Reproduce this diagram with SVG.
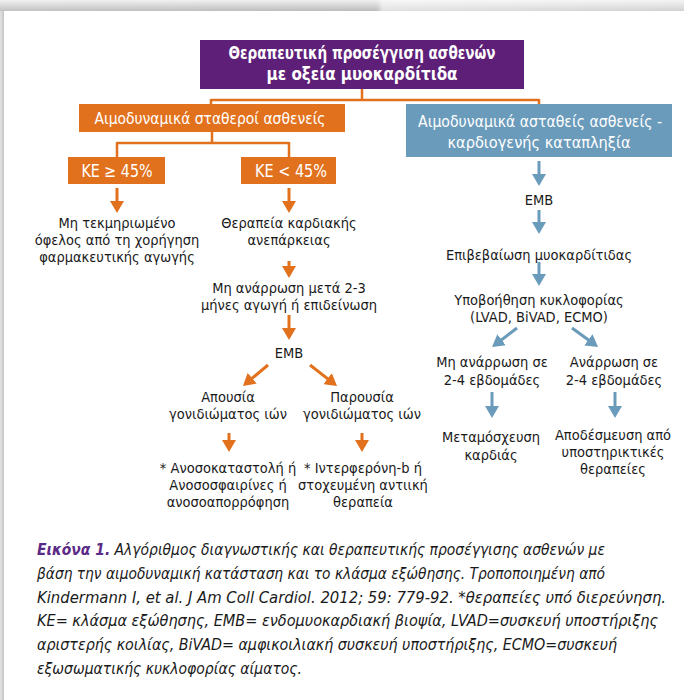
<svg xmlns="http://www.w3.org/2000/svg" width="684" height="700" viewBox="0 0 684 700">
<defs>
<linearGradient id="topg" x1="0" y1="0" x2="0" y2="1">
<stop offset="0" stop-color="#eeeeee"/>
<stop offset="1" stop-color="#b4b4b4"/>
</linearGradient>
<linearGradient id="topfade" x1="0" y1="0" x2="1" y2="0">
<stop offset="0" stop-color="#ffffff" stop-opacity="0.2"/>
<stop offset="0.55" stop-color="#ffffff" stop-opacity="0.1"/>
<stop offset="0.56" stop-color="#ffffff" stop-opacity="0.6"/>
<stop offset="1" stop-color="#ffffff" stop-opacity="0.4"/>
</linearGradient>
<linearGradient id="leftg" x1="0" y1="0" x2="1" y2="0">
<stop offset="0" stop-color="#e4e4e4"/>
<stop offset="1" stop-color="#c4c4c4"/>
</linearGradient>
<marker id="ah-o" viewBox="0 0 12 14" markerWidth="12" markerHeight="14" refX="4" refY="7" orient="auto" markerUnits="userSpaceOnUse">
<path d="M0,0 L12,7 L0,14 z" fill="#E2711D"/>
</marker>
<marker id="ah-b" viewBox="0 0 12 14" markerWidth="12" markerHeight="14" refX="4" refY="7" orient="auto" markerUnits="userSpaceOnUse">
<path d="M0,0 L12,7 L0,14 z" fill="#6A9BBB"/>
</marker>
</defs>
<style>
text{font-family:"Liberation Sans Narrow","DejaVu Sans Condensed","Liberation Sans",Arial,sans-serif;}
.t{font-size:14.5px;fill:#1a1a1a;text-anchor:middle;}
.wb{font-size:16px;fill:#ffffff;text-anchor:middle;}
.ttl{font-size:17px;fill:#ffffff;text-anchor:middle;font-weight:bold;}
.cap{font-size:16px;fill:#1a1a1a;font-style:italic;}
.capb{font-weight:bold;fill:#5B2A86;}
.co{stroke:#E2711D;stroke-width:2.5;fill:none;}
.ao{stroke:#E2711D;stroke-width:3;fill:none;marker-end:url(#ah-o);}
.ab{stroke:#6A9BBB;stroke-width:3;fill:none;marker-end:url(#ah-b);}
</style>
<rect x="0" y="0" width="684" height="700" fill="#ffffff"/>
<rect x="0" y="0" width="684" height="11" fill="url(#topg)"/>
<rect x="0" y="0" width="684" height="11" fill="url(#topfade)"/>
<rect x="0" y="11" width="4" height="689" fill="url(#leftg)"/>

<g id="connectors">
<path class="co" d="M362,89 V100 M211,100 H539 M211,99 V104 M539,99 V104"/>
<path class="co" d="M212,132 V143 M117,143 H289 M117,142 V157 M289,142 V157"/>
<line class="ao" x1="117" y1="188" x2="117" y2="205"/>
<line class="ao" x1="289" y1="188" x2="289" y2="205"/>
<line class="ao" x1="289" y1="261" x2="289" y2="270"/>
<line class="ao" x1="289" y1="315" x2="289" y2="332"/>
<line class="ao" x1="268" y1="365" x2="249.1" y2="380.8"/>
<line class="ao" x1="310" y1="365" x2="330.7" y2="381.1"/>
<line class="ao" x1="229" y1="433" x2="229" y2="444"/>
<line class="ao" x1="362" y1="433" x2="362" y2="444"/>
<line class="ab" x1="539" y1="161" x2="539" y2="178"/>
<line class="ab" x1="539" y1="210" x2="539" y2="226"/>
<line class="ab" x1="539" y1="262" x2="539" y2="278"/>
<line class="ab" x1="517" y1="328" x2="498.4" y2="342.2"/>
<line class="ab" x1="572" y1="328" x2="591.6" y2="342.2"/>
<line class="ab" x1="492" y1="392" x2="492" y2="410"/>
<line class="ab" x1="615" y1="392" x2="615" y2="410"/>
</g>

<g id="title">
<rect x="200" y="40" width="324" height="49" fill="#5E1F78"/>
<text class="ttl" x="362" y="59" textLength="267" lengthAdjust="spacingAndGlyphs">Θεραπευτική προσέγγιση ασθενών</text>
<text class="ttl" x="362" y="80" textLength="191" lengthAdjust="spacingAndGlyphs">με οξεία μυοκαρδίτιδα</text>
</g>
<g id="stable">
<rect x="79" y="104" width="266" height="28" fill="#E2711D"/>
<text class="wb" x="210" y="124" textLength="231" lengthAdjust="spacingAndGlyphs">Αιμοδυναμικά σταθεροί ασθενείς</text>
</g>
<g id="unstable">
<rect x="406" y="104" width="266" height="53" fill="#6A9BBB"/>
<text class="wb" x="540" y="127" textLength="244" lengthAdjust="spacingAndGlyphs">Αιμοδυναμικά ασταθείς ασθενείς -</text>
<text class="wb" x="539" y="148" textLength="183" lengthAdjust="spacingAndGlyphs">καρδιογενής καταπληξία</text>
</g>
<g id="ke-high">
<rect x="68" y="157" width="97" height="27" fill="#E2711D"/>
<text class="wb" x="117" y="177" style="font-size:17px" textLength="71" lengthAdjust="spacingAndGlyphs">ΚΕ ≥ 45%</text>
</g>
<g id="ke-low">
<rect x="241" y="157" width="95" height="27" fill="#E2711D"/>
<text class="wb" x="291" y="177" style="font-size:17px" textLength="72" lengthAdjust="spacingAndGlyphs">ΚΕ &lt; 45%</text>
</g>
<g id="no-benefit">
<text class="t" x="117" y="228">Μη τεκμηριωμένο</text>
<text class="t" x="117" y="245">όφελος από τη χορήγηση</text>
<text class="t" x="117" y="262">φαρμακευτικής αγωγής</text>
</g>
<g id="hf-therapy">
<text class="t" x="289" y="228">Θεραπεία καρδιακής</text>
<text class="t" x="289" y="245">ανεπάρκειας</text>
</g>
<g id="no-recovery">
<text class="t" x="289" y="293">Μη ανάρρωση μετά 2-3</text>
<text class="t" x="289" y="310">μήνες αγωγή ή επιδείνωση</text>
</g>
<g id="emb-left">
<text class="t" x="289" y="358">EMB</text>
</g>
<g id="virus-absent">
<text class="t" x="228" y="402">Απουσία</text>
<text class="t" x="228" y="419">γονιδιώματος ιών</text>
</g>
<g id="virus-present">
<text class="t" x="362" y="402">Παρουσία</text>
<text class="t" x="362" y="419">γονιδιώματος ιών</text>
</g>
<g id="immuno">
<text class="t" x="228" y="473">* Ανοσοκαταστολή ή</text>
<text class="t" x="228" y="490">Ανοσοσφαιρίνες ή</text>
<text class="t" x="228" y="507">ανοσοαπορρόφηση</text>
</g>
<g id="interferon">
<text class="t" x="363" y="473">* Ιντερφερόνη-b ή</text>
<text class="t" x="363" y="490">στοχευμένη αντιική</text>
<text class="t" x="363" y="507">θεραπεία</text>
</g>
<g id="emb-right">
<text class="t" x="539" y="205">EMB</text>
</g>
<g id="confirm">
<text class="t" x="539" y="260">Επιβεβαίωση μυοκαρδίτιδας</text>
</g>
<g id="support">
<text class="t" x="539" y="305">Υποβοήθηση κυκλοφορίας</text>
<text class="t" x="539" y="322">(LVAD, BiVAD, ECMO)</text>
</g>
<g id="no-recovery-2">
<text class="t" x="492" y="367">Μη ανάρρωση σε</text>
<text class="t" x="492" y="385">2-4 εβδομάδες</text>
</g>
<g id="recovery">
<text class="t" x="614" y="367">Ανάρρωση σε</text>
<text class="t" x="614" y="385">2-4 εβδομάδες</text>
</g>
<g id="transplant">
<text class="t" x="491" y="442">Μεταμόσχευση</text>
<text class="t" x="491" y="460">καρδιάς</text>
</g>
<g id="weaning">
<text class="t" x="613" y="440">Αποδέσμευση από</text>
<text class="t" x="613" y="457">υποστηρικτικές</text>
<text class="t" x="613" y="474">θεραπείες</text>
</g>

<g id="caption">
<text class="cap" x="37" y="555" textLength="568" lengthAdjust="spacingAndGlyphs"><tspan class="capb">Εικόνα 1.</tspan> Αλγόριθμος διαγνωστικής και θεραπευτικής προσέγγισης ασθενών με</text>
<text class="cap" x="37" y="579" textLength="568" lengthAdjust="spacingAndGlyphs">βάση την αιμοδυναμική κατάσταση και το κλάσμα εξώθησης. Τροποποιημένη από</text>
<text class="cap" x="37" y="603" textLength="629" lengthAdjust="spacingAndGlyphs">Kindermann I, et al. J Am Coll Cardiol. 2012; 59: 779-92. *θεραπείες υπό διερεύνηση.</text>
<text class="cap" x="37" y="626" textLength="621" lengthAdjust="spacingAndGlyphs">ΚΕ= κλάσμα εξώθησης, EMB= ενδομυοκαρδιακή βιοψία, LVAD=συσκευή υποστήριξης</text>
<text class="cap" x="37" y="650" textLength="580" lengthAdjust="spacingAndGlyphs">αριστερής κοιλίας, BiVAD= αμφικοιλιακή συσκευή υποστήριξης, ECMO=συσκευή</text>
<text class="cap" x="37" y="674" textLength="265" lengthAdjust="spacingAndGlyphs">εξωσωματικής κυκλοφορίας αίματος.</text>
</g>
</svg>
